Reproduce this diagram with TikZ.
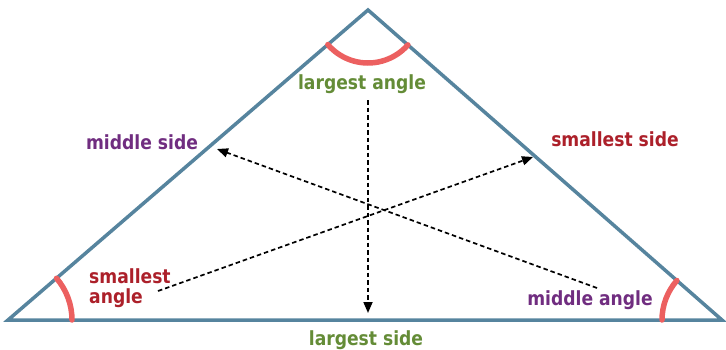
\documentclass[tikz,border=0pt]{standalone}
\definecolor{acier}{RGB}{86,132,158}
\definecolor{vert}{RGB}{100,140,55}
\definecolor{violet}{RGB}{112,45,128}
\definecolor{rouge}{RGB}{172,32,42}
\definecolor{corail}{RGB}{236,96,96}
\usepackage{fontspec}
\setmainfont{DejaVu Sans}[FakeStretch=0.88]
\usepackage{tikz}
\usetikzlibrary{arrows.meta,calc}

\tikzset{
  lbl/.style={font=\fontsize{19.5}{20}\selectfont\bfseries,inner sep=0pt,anchor=base},
  fleche/.style={-{Triangle[length=11pt,width=9pt]},line width=1.7pt,dash pattern=on 4.5pt off 3pt},
  arcangle/.style={corail,line width=5.5pt,line cap=round}
}

\begin{document}
\begin{tikzpicture}[x=1pt,y=1pt]
	\useasboundingbox (0,0) rectangle (726,-349);
	% sommets
	\coordinate (A) at (8,-320);
	\coordinate (B) at (722,-320);
	\coordinate (C) at (368,-10);
	\draw[acier,line width=3.5pt,line join=miter] (A) -- (C) -- (B) -- cycle;
	
	% angles
	\draw[arcangle] ($(C)+(220.7:53pt)$) arc[start angle=220.7,end angle=318.8,radius=53pt];
	\draw[arcangle] ($(A)+(0:64pt)$) arc[start angle=0,end angle=40.7,radius=64pt];
	\draw[arcangle] ($(B)+(138.8:60pt)$) arc[start angle=138.8,end angle=180,radius=60pt];
	
	% textes
	\node[lbl,text=vert] (grandAngle) at (362,-89) {largest angle};
	\node[lbl,text=vert] (grandCote) at (366,-345) {largest side};
	\node[lbl,text=violet] (moyenCote) at (142,-149) {middle side};
	\node[lbl,text=rouge] (petitCote) at (615,-146) {smallest side};
	\node[lbl,text=rouge,anchor=north west,align=left] (petitAngle) at (89,-268) {smallest\\angle};
	\node[lbl,text=violet] (moyenAngle) at (590,-305) {middle angle};
	
	% fleches
	\coordinate (gA) at (368,-100);
	\coordinate (gC) at (368,-313);
	\coordinate (pA) at (158,-291);
	\coordinate (pC) at (533,-157);
	\coordinate (mA) at (597,-288);
	\coordinate (mC) at (217,-149);
	\draw[fleche] (gA) -- (gC);
	\draw[fleche] (pA) -- (pC);
	\draw[fleche] (mA) -- (mC);
\end{tikzpicture}
\end{document}
